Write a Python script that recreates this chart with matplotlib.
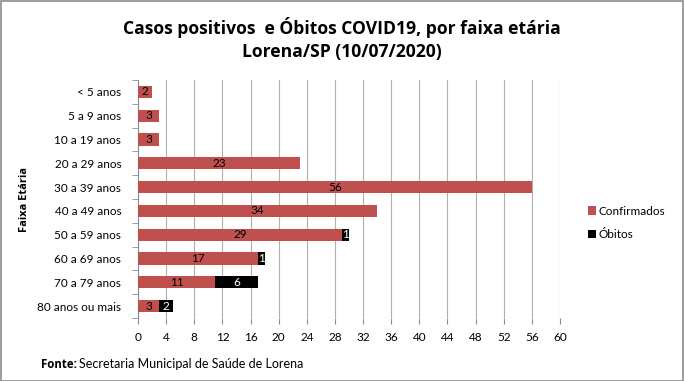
import matplotlib
matplotlib.use("Agg")
import matplotlib.pyplot as plt
import numpy as np
from matplotlib.patches import Rectangle

categories = ["< 5 anos", "5 a 9 anos", "10 a 19 anos", "20 a 29 anos", "30 a 39 anos",
              "40 a 49 anos", "50 a 59 anos", "60 a 69 anos", "70 a 79 anos", "80 anos ou mais"]
confirmados = [2, 3, 3, 23, 56, 34, 29, 17, 11, 3]
obitos = [0, 0, 0, 0, 0, 0, 1, 1, 6, 2]
xticks = list(range(0, 61, 4))

plt.rcParams['font.family'] = ['Lato', 'DejaVu Sans']
BOLD = ['Open Sans', 'DejaVu Sans']

fig = plt.figure(figsize=(6.84, 3.81), dpi=100)
fig.patches.append(Rectangle((0.001, 0.001), 0.997, 0.996, transform=fig.transFigure,
                             fill=False, edgecolor="#8c8c8c", linewidth=1.2))
ax = fig.add_axes([138/684, 1-318/381, (560-138)/684, (318-80)/381])

y = np.arange(len(categories))
red = "#c0504d"
ax.barh(y, confirmados, height=0.52, color=red, label="Confirmados", zorder=3)
ax.barh(y, obitos, left=confirmados, height=0.52, color="black", label="Óbitos", zorder=3)

for i, (c, o) in enumerate(zip(confirmados, obitos)):
    if c:
        ax.text(c/2, i, str(c), ha="center", va="center", fontsize=8.5, color="black", zorder=4)
    if o:
        ax.text(c + o/2, i, str(o), ha="center", va="center", fontsize=8.5, color="white", zorder=4)

ax.set_ylim(len(categories)-0.5, -0.5)
ax.set_xlim(0, 60)
ax.set_xticks(xticks)
ax.set_xticklabels([str(t) for t in xticks], fontsize=8.5)
ax.set_yticks(y)
ax.set_yticklabels(categories, fontsize=8.5)
ax.set_yticks(np.arange(-0.5, len(categories), 1), minor=True)
ax.tick_params(axis="y", which="major", length=0, pad=12)
ax.tick_params(axis="y", which="minor", length=4, color="#8c8c8c")
ax.tick_params(axis="x", length=4, color="#8c8c8c", pad=6)
ax.grid(axis="x", color="#b0b0b0", linewidth=0.8, zorder=0)
for s in ["top", "right", "bottom"]:
    ax.spines[s].set_visible(False)
ax.spines["left"].set_color("#8c8c8c")
ax.set_ylabel("Faixa Etária", fontsize=8, fontweight="bold", family=BOLD)
ax.yaxis.set_label_coords(-0.255, 0.5)

fig.text(0.5, 1-28/381, "Casos positivos  e Óbitos COVID19, por faixa etária", ha="center",
         va="center", fontsize=12.6, fontweight="bold", family=BOLD)
fig.text(0.5, 1-52/381, "Lorena/SP (10/07/2020)", ha="center", va="center",
         fontsize=12.6, fontweight="bold", family=BOLD)

leg = ax.legend(loc="center left", bbox_to_anchor=(577/684, 1-223/381), bbox_transform=fig.transFigure,
                frameon=False, fontsize=8.5, handlelength=0.7, handleheight=0.7, handletextpad=0.2,
                labelspacing=1.1)

t1 = fig.text(41/684, 1-368/381, "Fonte:", ha="left", va="baseline", fontsize=8.3, fontweight="bold",
              family=BOLD)
fig.canvas.draw()
bb = t1.get_window_extent()
fig.text((bb.x1 + 2)/684, 1-368/381, "Secretaria Municipal de Saúde de Lorena", ha="left",
         va="baseline", fontsize=9)

fig.savefig("out.png", dpi=100)
